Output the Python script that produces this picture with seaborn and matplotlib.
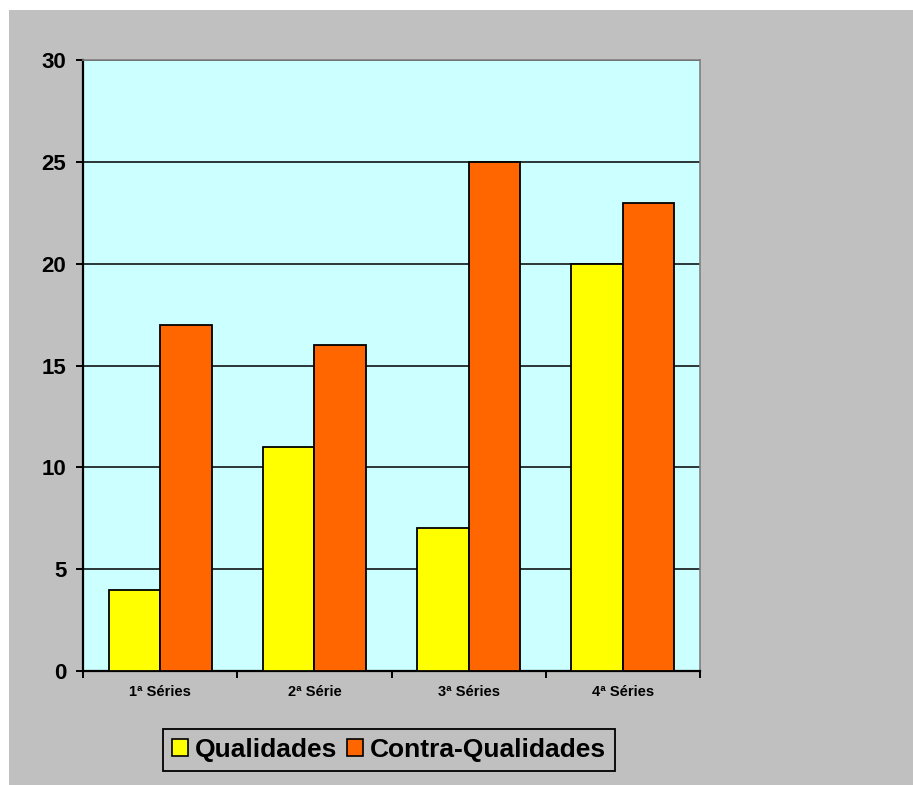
import pandas as pd
import matplotlib.pyplot as plt
import seaborn as sns
from matplotlib.patches import Rectangle, Patch

# data
categories = ['1ª Séries', '2ª Série', '3ª Séries', '4ª Séries']
qualidades = [4, 11, 7, 20]
contra_qualidades = [17, 16, 25, 23]
series_names = ['Qualidades', 'Contra-Qualidades']
colors = ['#FFFF00', '#FF6600']

df = pd.DataFrame({
    'serie': categories * 2,
    'valor': qualidades + contra_qualidades,
    'grupo': [series_names[0]] * 4 + [series_names[1]] * 4,
})

sns.set_theme(style="white")
plt.rcParams['font.family'] = ['Liberation Sans', 'DejaVu Sans']
plt.rcParams['font.weight'] = 'bold'
plt.rcParams['text.color'] = 'black'
plt.rcParams['xtick.color'] = 'black'
plt.rcParams['ytick.color'] = 'black'

fig = plt.figure(figsize=(9.13, 7.85), dpi=100, facecolor='white')
# gray chart area with a white margin on top and left
fig.patches.append(Rectangle((9 / 913, 0), 1, 1 - 10 / 785, transform=fig.transFigure,
                             facecolor='#C0C0C0', edgecolor='none', zorder=-10))

ax = fig.add_axes([83 / 913, 1 - 671 / 785, 617 / 913, 611 / 785])
ax.set_facecolor('#CCFFFF')

sns.barplot(data=df, x='serie', y='valor', hue='grupo', palette=colors,
            width=0.667, edgecolor='black', linewidth=1.3, saturation=1,
            legend=False, ax=ax, zorder=3)

ax.set_ylim(0, 30)
ax.set_xlim(-0.5, 3.5)
ax.set_yticks(range(0, 31, 5))
ax.yaxis.grid(True, color='black', linewidth=1.1, zorder=1)
ax.set_axisbelow(True)
ax.set_xlabel('')
ax.set_ylabel('')

for side in ['left', 'bottom']:
    ax.spines[side].set_color('black')
    ax.spines[side].set_linewidth(1.6)
for side in ['top', 'right']:
    ax.spines[side].set_color('#808080')
    ax.spines[side].set_linewidth(1.2)

ax.tick_params(axis='y', direction='out', length=5, width=1.4, color='black',
               labelsize=16, pad=7, left=True, labelcolor='black')
ax.tick_params(axis='x', which='major', length=0, labelsize=10.5, pad=10, labelcolor='black')
ax.set_xticks([-0.5, 0.5, 1.5, 2.5, 3.5], minor=True)
ax.tick_params(axis='x', which='minor', direction='out', length=5, width=1.4,
               color='black', bottom=True)
for lab in ax.get_xticklabels() + ax.get_yticklabels():
    lab.set_fontweight('bold')

handles = [Patch(facecolor=c, edgecolor='black', linewidth=1.2) for c in colors]
leg = fig.legend(handles, series_names, loc='center', bbox_to_anchor=(389 / 913, 1 - 750 / 785),
                 ncol=2, frameon=True, fancybox=False, facecolor='#C0C0C0', edgecolor='black',
                 framealpha=1, handlelength=0.6, handleheight=0.6, handletextpad=0.25,
                 columnspacing=0.4, borderpad=0.35, prop={'size': 19, 'weight': 'bold'})
leg.get_frame().set_linewidth(1.3)
for t in leg.get_texts():
    t.set_color('black')

fig.savefig('out.png', dpi=100, facecolor=fig.get_facecolor())
